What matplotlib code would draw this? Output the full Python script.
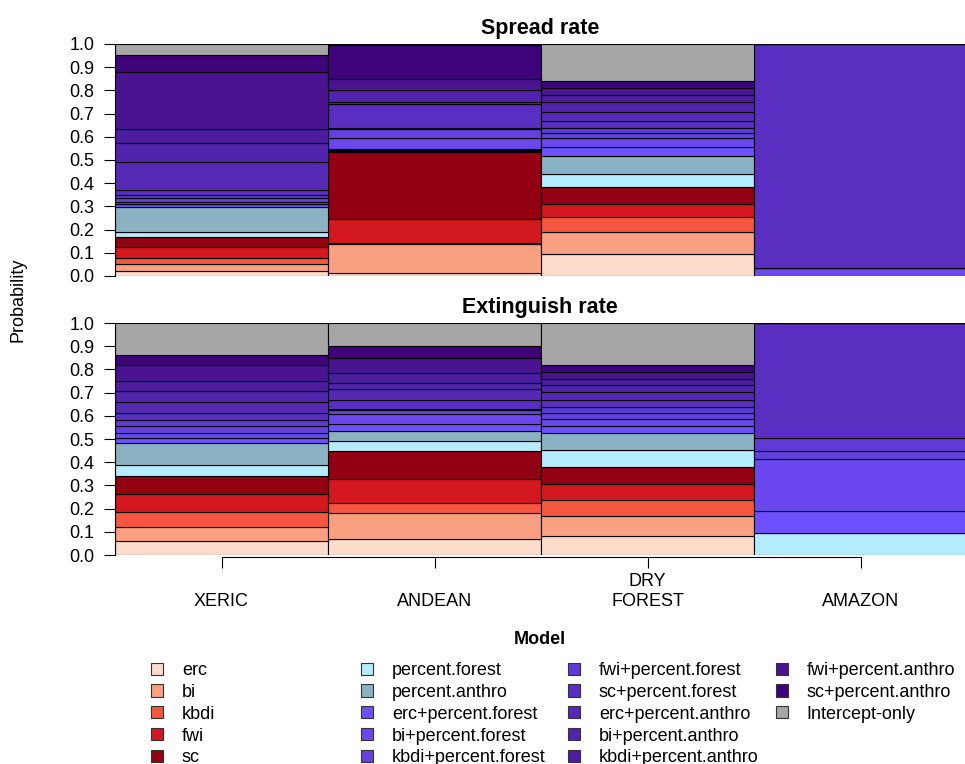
import matplotlib
matplotlib.use("Agg")
import matplotlib.pyplot as plt
from matplotlib.patches import Patch
import numpy as np

plt.rcParams["font.family"] = ["Liberation Sans", "DejaVu Sans"]

regions = ["XERIC", "ANDEAN", "DRY\nFOREST", "AMAZON"]

models = ["erc", "bi", "kbdi", "fwi", "sc",
          "percent.forest", "percent.anthro",
          "erc+percent.forest", "bi+percent.forest", "kbdi+percent.forest",
          "fwi+percent.forest", "sc+percent.forest",
          "erc+percent.anthro", "bi+percent.anthro", "kbdi+percent.anthro",
          "fwi+percent.anthro", "sc+percent.anthro", "Intercept-only"]

colors = ["#FDDCCB", "#F9A080", "#F65740", "#D4181F", "#930012",
          "#B3ECFD", "#8AB2C2",
          "#6E50FF", "#6A47EE", "#6540DF", "#6039D6", "#5A2EC0",
          "#5629B5", "#5224AB", "#4D1CA0", "#4A1490", "#40047A",
          "#A6A6A6"]

# model probabilities per region, in the order of `models`
spread_xeric = [0.023, 0.027, 0.028, 0.046, 0.046, 0.020, 0.109,
                0.011, 0.010, 0.015, 0.015, 0.020,
                0.120, 0.082, 0.060, 0.246, 0.075, 0.047]
spread_andean = [0.014, 0.124, 0.005, 0.102, 0.291, 0.004, 0.005,
                 0.003, 0.046, 0.039, 0.003, 0.105,
                 0.007, 0.052, 0.002, 0.049, 0.145, 0.004]
spread_dry = [0.095, 0.096, 0.062, 0.059, 0.070, 0.058, 0.079,
              0.038, 0.039, 0.022, 0.021, 0.031,
              0.038, 0.042, 0.030, 0.029, 0.033, 0.158]
spread_amazon = [0.0, 0.0, 0.0, 0.0, 0.0, 0.0, 0.0,
                 0.0, 0.035, 0.0, 0.0, 0.965,
                 0.0, 0.0, 0.0, 0.0, 0.0, 0.0]

ext_xeric = [0.059, 0.060, 0.066, 0.076, 0.079, 0.050, 0.093,
             0.022, 0.020, 0.030, 0.026, 0.032,
             0.047, 0.046, 0.043, 0.069, 0.046, 0.136]
ext_andean = [0.069, 0.113, 0.043, 0.104, 0.121, 0.042, 0.043,
              0.030, 0.043, 0.015, 0.005, 0.039,
              0.047, 0.028, 0.044, 0.063, 0.051, 0.100]
ext_dry = [0.083, 0.085, 0.067, 0.071, 0.073, 0.073, 0.072,
           0.033, 0.030, 0.027, 0.026, 0.030,
           0.032, 0.031, 0.027, 0.029, 0.032, 0.179]
ext_amazon = [0.0, 0.0, 0.0, 0.0, 0.0, 0.093, 0.0,
              0.096, 0.226, 0.034, 0.056, 0.495,
              0.0, 0.0, 0.0, 0.0, 0.0, 0.0]

W, H = 965, 764
FS = 13
fig = plt.figure(figsize=(W / 100, H / 100), dpi=100)


def px_axes(left, top, right, bottom):
    return fig.add_axes([left / W, 1 - bottom / H, (right - left) / W, (bottom - top) / H])


def stacked(ax, columns, title):
    vals = np.array(columns).T
    x = np.arange(len(columns)) + 0.5
    base = np.zeros(len(columns))
    for i in range(len(models)):
        ax.bar(x, vals[i], width=1.0, bottom=base, color=colors[i],
               edgecolor="black", linewidth=0.8)
        base += vals[i]
    ax.set_xlim(0, 850 / 213)
    ax.set_ylim(0, 1)
    for s in ["top", "right", "bottom"]:
        ax.spines[s].set_visible(False)
    ax.spines["left"].set_bounds(0, 1)
    ax.set_yticks(np.arange(0, 1.01, 0.1))
    ax.set_yticklabels([f"{v:.1f}" for v in np.arange(0, 1.01, 0.1)])
    ax.tick_params(axis="y", length=8, width=0.8, pad=7, labelsize=FS)
    ax.set_title(title, fontsize=15.5, fontweight="bold", pad=7.5)
    return x


ax1 = px_axes(115, 44, 965, 276)
stacked(ax1, [spread_xeric, spread_andean, spread_dry, spread_amazon], "Spread rate")
ax1.set_xticks([])

ax2 = px_axes(115, 323, 965, 555)
x = stacked(ax2, [ext_xeric, ext_andean, ext_dry, ext_amazon], "Extinguish rate")
ax2.spines["bottom"].set_visible(True)
ax2.spines["bottom"].set_bounds(x[0], x[-1])
ax2.spines["bottom"].set_position(("outward", 1.5))
ax2.set_xticks(x)
ax2.set_xticklabels(regions)
ax2.tick_params(axis="x", length=8, width=0.8, pad=30, labelsize=FS)
for lab in ax2.get_xticklabels():
    lab.set_verticalalignment("bottom")

fig.text(18 / W, 1 - 300 / H, "Probability", rotation=90, ha="center", va="center", fontsize=FS)

# legend in four columns of five rows
fig.text(540 / W, 1 - 640 / H, "Model", ha="center", va="center", fontsize=FS, fontweight="bold")
col_x = [151, 361, 568, 776]
handles = [Patch(facecolor=c, edgecolor="#333333", linewidth=0.8) for c in colors]
for k, cx in enumerate(col_x):
    idx = range(5 * k, min(5 * k + 5, len(models)))
    fig.legend([handles[i] for i in idx], [models[i] for i in idx],
               loc="upper left", bbox_to_anchor=(cx / W, 1 - 662 / H),
               frameon=False, fontsize=FS, handlelength=0.66, handleheight=0.66,
               handletextpad=1.05, labelspacing=0.27, borderpad=0, borderaxespad=0)

fig.savefig("out.png", dpi=100)
